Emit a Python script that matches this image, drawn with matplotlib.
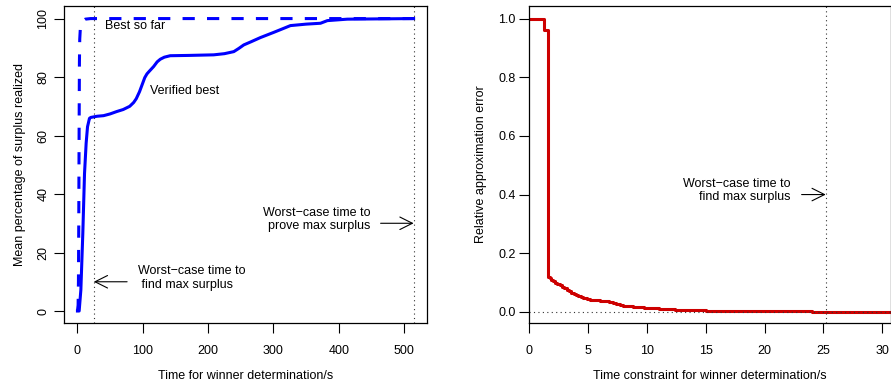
"""Surplus realized over time and relative approximation error"""

import numpy as np
import matplotlib
matplotlib.use("Agg")
import matplotlib.pyplot as plt

plt.rcParams["font.family"] = ["Liberation Sans", "DejaVu Sans"]
plt.rcParams["font.size"] = 9

# left panel: mean percentage of surplus realized
best_t = [0, 1, 1.5, 2, 2.5, 3, 3.5, 4.5, 7, 12, 20, 514.5]
best_pct = [0, 2, 10, 30, 60, 85, 93, 97, 99, 99.8, 100, 100]

verified_t = [0, 2.6, 5.2, 8.2, 10.8, 13.3, 15.4, 18.4, 20.5, 30, 40, 50,
              60, 70, 80, 86, 90, 95, 100, 103, 106.4, 110, 116.6, 122,
              126.8, 133, 142, 170, 208.6, 225, 239.3, 247, 254.6, 265, 280,
              300.6, 315, 326, 350, 372, 382.5, 413, 514.5]
verified_pct = [0, 0, 7.2, 26.6, 47, 57.4, 63, 65.9, 66.2, 66.6, 66.8, 67.4,
                68.2, 68.9, 70, 71.3, 72.6, 75, 78, 79.8, 81.1, 82, 83.6, 85.2,
                86.1, 86.8, 87.3, 87.4, 87.6, 88.0, 88.7, 89.8, 91, 92, 93.5,
                95.3, 96.6, 97.6, 98.1, 98.4, 99.3, 99.8, 100]

find_time_left = 25
prove_time = 514.5

# right panel: relative approximation error (step function)
limit_t = [0, 1.27, 1.59, 1.75, 1.9, 2.05, 2.2, 2.4, 2.6, 2.8, 3.0, 3.2,
           3.4, 3.6, 3.8, 4.0, 4.2, 4.4, 4.6, 4.9, 5.2, 5.6, 6.0, 6.4, 6.8,
           7.1, 7.4, 7.7, 8.0, 8.4, 8.8, 9.3, 9.8, 10.4, 11.0, 11.7, 12.4,
           13.2, 14.0, 15.0, 16.5, 18.5, 21.0, 24.0, 28.0, 30.8]
rel_error = [1.0, 0.96, 0.12, 0.115, 0.11, 0.105, 0.1, 0.095, 0.09, 0.086,
             0.081, 0.076, 0.071, 0.066, 0.061, 0.057, 0.053, 0.05, 0.047,
             0.044, 0.042, 0.04, 0.038, 0.036, 0.033, 0.03, 0.026, 0.023,
             0.021, 0.019, 0.017, 0.015, 0.013, 0.012, 0.01, 0.009, 0.008,
             0.006, 0.005, 0.004, 0.003, 0.002, 0.0015, 0.001, 0.0, 0.0]
find_time_right = 25.2

fig = plt.figure(figsize=(8.91, 3.88), dpi=100)
ax1 = fig.add_axes([64 / 891, 1 - 323 / 388, 363 / 891, 317 / 388])
ax2 = fig.add_axes([529 / 891, 1 - 323 / 388, 362 / 891, 317 / 388])

lw = 2.2
dot = (0, (1, 3))
arrow = dict(arrowstyle="->,head_length=0.9,head_width=0.45", lw=0.8,
             color="black", shrinkA=0, shrinkB=0, mutation_scale=10)

ax1.plot(best_t, best_pct, color="#0000FF", lw=lw, ls=(0, (4, 4)))
ax1.plot(verified_t, verified_pct, color="#0000FF", lw=lw)
ax1.axvline(find_time_left, color="#333333", lw=0.8, ls=dot)
ax1.axvline(prove_time, color="#333333", lw=0.8, ls=dot)
ax1.text(42.5, 97.3, "Best so far", ha="left", va="center")
ax1.text(111.5, 75.4, "Verified best", ha="left", va="center")
ax1.text(448, 31.4, "Worst\u2212case time to\nprove max surplus",
         ha="right", va="center", linespacing=1.15)
ax1.annotate("", xy=(prove_time, 30), xytext=(464, 30), arrowprops=arrow)
ax1.text(92, 11.3, "Worst\u2212case time to\n find max surplus",
         ha="left", va="center", linespacing=1.15)
ax1.annotate("", xy=(find_time_left, 10), xytext=(76, 10), arrowprops=arrow)
ax1.set_xlim(-20.6, 535)
ax1.set_ylim(-4.1, 104.3)
ax1.set_xticks([0, 100, 200, 300, 400, 500])
ax1.set_yticks([0, 20, 40, 60, 80, 100])
ax1.tick_params(axis="y", labelrotation=90, length=7.5, pad=3)
ax1.tick_params(axis="x", length=7.5, pad=8)
for lab in ax1.get_yticklabels():
    lab.set_va("center")
ax1.set_xlabel("Time for winner determination/s", labelpad=10)
ax1.set_ylabel("Mean percentage of surplus realized", labelpad=8)

ax2.plot(limit_t, rel_error, color="#CD0000", lw=lw, drawstyle="steps-post")
ax2.axvline(find_time_right, color="#333333", lw=0.8, ls=dot)
ax2.axhline(0, color="#333333", lw=0.8, ls=dot)
ax2.text(22.24, 0.413, "Worst\u2212case time to\nfind max surplus",
         ha="right", va="center", linespacing=1.15)
ax2.annotate("", xy=(find_time_right, 0.40), xytext=(23.15, 0.40),
             arrowprops=arrow)
ax2.set_xlim(0, 30.74)
ax2.set_ylim(-0.038, 1.043)
ax2.set_xticks([0, 5, 10, 15, 20, 25, 30])
ax2.set_yticks([0.0, 0.2, 0.4, 0.6, 0.8, 1.0])
ax2.set_yticklabels(["0.0", "0.2", "0.4", "0.6", "0.8", "1.0"])
ax2.tick_params(axis="y", length=7.5, pad=2)
ax2.tick_params(axis="x", length=7.5, pad=8)
ax2.set_xlabel("Time constraint for winner determination/s", labelpad=10)
ax2.set_ylabel("Relative approximation error", labelpad=8)

for ax in (ax1, ax2):
    for sp in ax.spines.values():
        sp.set_linewidth(0.9)

fig.savefig("out.png", dpi=100)
